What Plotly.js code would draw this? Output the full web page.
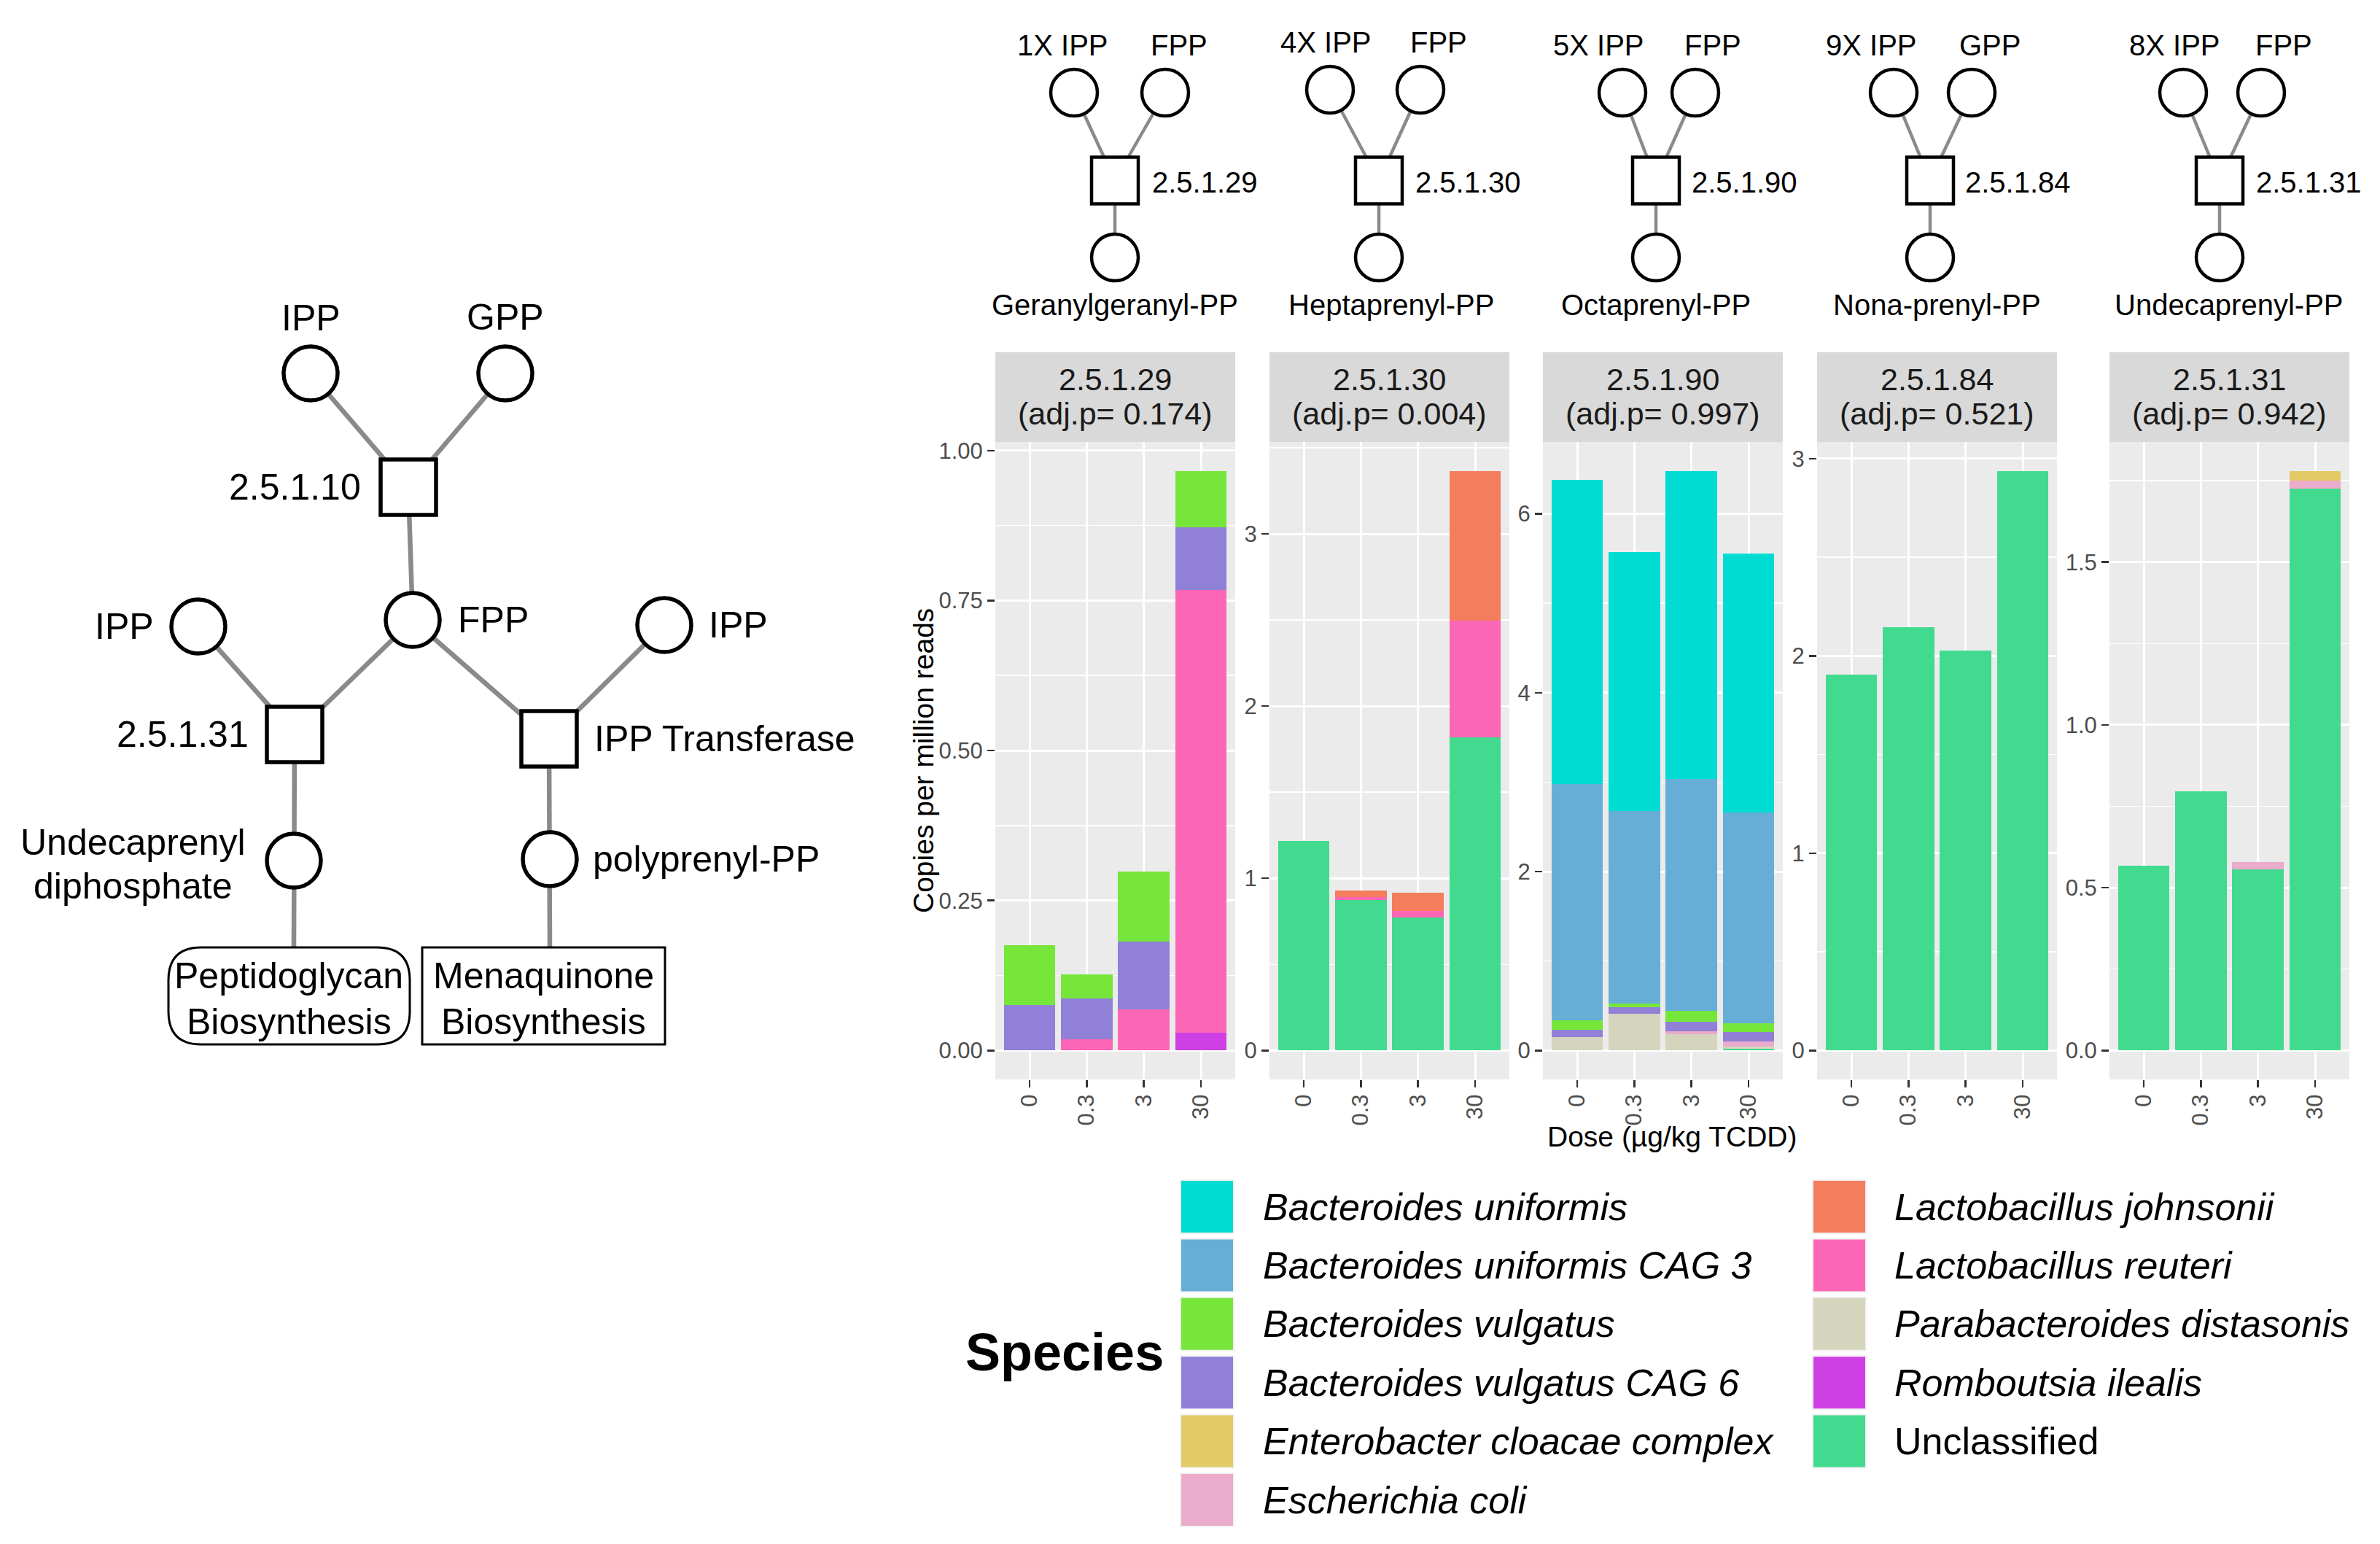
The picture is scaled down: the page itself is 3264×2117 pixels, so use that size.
<!DOCTYPE html>
<html>
<head>
<meta charset="utf-8">
<script src="https://cdn.plot.ly/plotly-3.0.1.min.js"></script>
<style>html,body{margin:0;padding:0;background:#fff;}#chart{width:3264px;height:2117px;}</style>
</head>
<body>
<div id="chart"></div>
<script>
// ---------------- DATA ----------------
const doses = ['0', '0.3', '3', '30'];
const enzymes = ['2.5.1.29', '2.5.1.30', '2.5.1.90', '2.5.1.84', '2.5.1.31'];
const adjP = ['0.174', '0.004', '0.997', '0.521', '0.942'];
const species = ['Bacteroides uniformis', 'Bacteroides uniformis CAG 3', 'Bacteroides vulgatus',
  'Bacteroides vulgatus CAG 6', 'Enterobacter cloacae complex', 'Escherichia coli',
  'Lactobacillus johnsonii', 'Lactobacillus reuteri', 'Parabacteroides distasonis',
  'Romboutsia ilealis', 'Unclassified'];
const speciesColors = ['#00DCD2', '#67AED6', '#76E63A', '#9080D7', '#E2CA64', '#EBABCA',
  '#F37D5D', '#FC66B6', '#D5D5BE', '#CE40E3', '#42DA8F'];

// copies per million reads; rows follow `species`, columns follow `doses`
const ec_2_5_1_29 = [
  [0, 0, 0, 0], [0, 0, 0, 0],
  [0.100, 0.040, 0.116, 0.094],
  [0.076, 0.069, 0.113, 0.104],
  [0, 0, 0, 0], [0, 0, 0, 0], [0, 0, 0, 0],
  [0, 0.018, 0.069, 0.739],
  [0, 0, 0, 0],
  [0, 0, 0, 0.029],
  [0, 0, 0, 0]];
const ec_2_5_1_30 = [
  [0, 0, 0, 0], [0, 0, 0, 0], [0, 0, 0, 0], [0, 0, 0, 0], [0, 0, 0, 0], [0, 0, 0, 0],
  [0, 0.040, 0.106, 0.870],
  [0, 0.015, 0.040, 0.678],
  [0, 0, 0, 0], [0, 0, 0, 0],
  [1.219, 0.875, 0.771, 1.818]];
const ec_2_5_1_90 = [
  [3.404, 2.890, 3.444, 2.895],
  [2.640, 2.156, 2.591, 2.358],
  [0.104, 0.044, 0.123, 0.104],
  [0.079, 0.068, 0.104, 0.100],
  [0, 0, 0, 0],
  [0, 0, 0.038, 0.060],
  [0, 0, 0, 0], [0, 0, 0, 0],
  [0.153, 0.412, 0.180, 0.027],
  [0, 0, 0, 0],
  [0, 0, 0, 0.016]];
const ec_2_5_1_84 = [
  [0, 0, 0, 0], [0, 0, 0, 0], [0, 0, 0, 0], [0, 0, 0, 0], [0, 0, 0, 0], [0, 0, 0, 0],
  [0, 0, 0, 0], [0, 0, 0, 0], [0, 0, 0, 0], [0, 0, 0, 0],
  [1.906, 2.145, 2.026, 2.938]];
const ec_2_5_1_31 = [
  [0, 0, 0, 0], [0, 0, 0, 0], [0, 0, 0, 0], [0, 0, 0, 0],
  [0, 0, 0, 0.030],
  [0, 0, 0.023, 0.025],
  [0, 0, 0, 0], [0, 0, 0, 0], [0, 0, 0, 0], [0, 0, 0, 0],
  [0.567, 0.796, 0.556, 1.725]];
const panelValues = [ec_2_5_1_29, ec_2_5_1_30, ec_2_5_1_90, ec_2_5_1_84, ec_2_5_1_31];

// diagram labels
const substrateLabels = ['1X IPP', '4X IPP', '5X IPP', '9X IPP', '8X IPP'];
const primerLabels = ['FPP', 'FPP', 'FPP', 'GPP', 'FPP'];
const productLabels = ['Geranylgeranyl-PP', 'Heptaprenyl-PP', 'Octaprenyl-PP', 'Nona-prenyl-PP', 'Undecaprenyl-PP'];

// ---------------- STYLE / LAYOUT ----------------
const W = 3264, H = 2117;
const FONT = 'Liberation Sans, Arial, Helvetica, sans-serif';
const px = x => x / W;
const py = y => 1 - y / H;

const panelX = [[1365, 1694], [1741, 2070], [2116, 2445], [2492, 2821], [2893, 3222]];
const panelTop = 606, panelBottom = 1480, stripTop = 483;
const yDtick = [0.25, 1, 2, 1, 0.5];
const yFormat = ['.2f', 'd', 'd', 'd', '.1f'];

const traces = [];
const layout = {
  width: W, height: H,
  margin: {l: 0, r: 0, t: 0, b: 0},
  paper_bgcolor: '#FFFFFF',
  plot_bgcolor: '#EBEBEB',
  barmode: 'stack',
  showlegend: false,
  font: {family: FONT, color: '#000'},
  shapes: [],
  annotations: []
};

panelValues.forEach((vals, p) => {
  const ax = p === 0 ? '' : String(p + 1);
  // stack bottom-to-top in reverse legend order (ggplot style)
  for (let s = species.length - 1; s >= 0; s--) {
    if (vals[s].some(v => v > 0)) {
      traces.push({
        type: 'bar', x: doses, y: vals[s], name: species[s],
        xaxis: 'x' + ax, yaxis: 'y' + ax, width: 0.9,
        marker: {color: speciesColors[s], line: {width: 0}},
        hovertemplate: species[s] + '<br>%{x}: %{y}<extra></extra>'
      });
    }
  }
  const totals = doses.map((d, i) => vals.reduce((a, r) => a + r[i], 0));
  const mx = Math.max(...totals);
  layout['xaxis' + ax] = {
    domain: [px(panelX[p][0]), px(panelX[p][1])],
    anchor: 'y' + ax, type: 'category', categoryorder: 'array', categoryarray: doses,
    range: [-0.6, 3.6], showgrid: true, gridcolor: '#FFFFFF', gridwidth: 3,
    zeroline: false, showline: false, ticks: 'outside', ticklen: 10, tickwidth: 2.5,
    tickcolor: '#333333', tickangle: -90, fixedrange: true, ticklabelstandoff: -3,
    tickfont: {family: FONT, size: 31, color: '#4D4D4D'}
  };
  layout['yaxis' + ax] = {
    domain: [py(panelBottom), py(panelTop)],
    anchor: 'x' + ax, range: [-0.05 * mx, 1.05 * mx],
    tick0: 0, dtick: yDtick[p], tickformat: yFormat[p],
    showgrid: true, gridcolor: '#FFFFFF', gridwidth: 3, zeroline: false, showline: false,
    ticks: 'outside', ticklen: 10, tickwidth: 2.5, tickcolor: '#333333', fixedrange: true,
    tickfont: {family: FONT, size: 31, color: '#4D4D4D'},
    minor: {dtick: yDtick[p] / 2, tick0: 0, showgrid: true, gridcolor: '#FFFFFF', gridwidth: 1.5, ticks: ''}
  };
  // facet strip
  layout.shapes.push({type: 'rect', xref: 'paper', yref: 'paper',
    x0: px(panelX[p][0]), x1: px(panelX[p][1]), y0: py(panelTop), y1: py(stripTop),
    fillcolor: '#D9D9D9', line: {width: 0}, layer: 'below'});
  const cx = (panelX[p][0] + panelX[p][1]) / 2;
  layout.annotations.push({xref: 'paper', yref: 'paper', x: px(cx), y: py(520), text: enzymes[p],
    showarrow: false, xanchor: 'center', yanchor: 'middle', font: {family: FONT, size: 43, color: '#1A1A1A'}});
  layout.annotations.push({xref: 'paper', yref: 'paper', x: px(cx), y: py(567), text: '(adj.p= ' + adjP[p] + ')',
    showarrow: false, xanchor: 'center', yanchor: 'middle', font: {family: FONT, size: 43, color: '#1A1A1A'}});
});

// axis titles
layout.annotations.push({xref: 'paper', yref: 'paper', x: px(1266), y: py(1043), text: 'Copies per million reads',
  textangle: -90, showarrow: false, xanchor: 'center', yanchor: 'middle', font: {family: FONT, size: 39, color: '#000'}});
layout.annotations.push({xref: 'paper', yref: 'paper', x: px(2293), y: py(1558), text: 'Dose (µg/kg TCDD)',
  showarrow: false, xanchor: 'center', yanchor: 'middle', font: {family: FONT, size: 39, color: '#000'}});

// ---------------- LEGEND (manual, ggplot style) ----------------
const legCols = [{keyX: 1619, textX: 1730}, {keyX: 2486, textX: 2596}];
const legRowTop = 1618, legPitch = 80.4, keySize = 73;
species.forEach((sp, i) => {
  const col = i < 6 ? 0 : 1, row = i < 6 ? i : i - 6;
  const y0 = legRowTop + row * legPitch;
  layout.shapes.push({type: 'rect', xref: 'paper', yref: 'paper',
    x0: px(legCols[col].keyX), x1: px(legCols[col].keyX + keySize), y0: py(y0 + keySize), y1: py(y0),
    fillcolor: speciesColors[i], line: {color: '#F2F2F2', width: 2}});
  layout.annotations.push({xref: 'paper', yref: 'paper', x: px(legCols[col].textX), y: py(y0 + keySize / 2),
    text: sp === 'Unclassified' ? sp : '<i>' + sp + '</i>', showarrow: false, xanchor: 'left', yanchor: 'middle',
    font: {family: FONT, size: 52, color: '#000'}});
});
layout.annotations.push({xref: 'paper', yref: 'paper', x: px(1322), y: py(1854), text: '<b>Species</b>',
  showarrow: false, xanchor: 'left', yanchor: 'middle', font: {family: FONT, size: 72, color: '#000'}});

// ---------------- PATHWAY DIAGRAMS ----------------
const lineShapes = [], nodeShapes = [];
function edge(x1, y1, x2, y2, w) {
  lineShapes.push({type: 'line', xref: 'paper', yref: 'paper', x0: px(x1), y0: py(y1), x1: px(x2), y1: py(y2),
    line: {color: '#8A8A8A', width: w}});
}
function circ(cx, cy, r, w) {
  nodeShapes.push({type: 'circle', xref: 'paper', yref: 'paper', x0: px(cx - r), x1: px(cx + r), y0: py(cy + r), y1: py(cy - r),
    fillcolor: '#FFFFFF', line: {color: '#000', width: w}});
}
function sq(cx, cy, h, w) {
  nodeShapes.push({type: 'rect', xref: 'paper', yref: 'paper', x0: px(cx - h), x1: px(cx + h), y0: py(cy + h), y1: py(cy - h),
    fillcolor: '#FFFFFF', line: {color: '#000', width: w}});
}
function label(x, y, text, size, anchor) {
  layout.annotations.push({xref: 'paper', yref: 'paper', x: px(x), y: py(y), text: text, showarrow: false,
    xanchor: anchor, yanchor: 'middle', font: {family: FONT, size: size, color: '#000'}});
}

// small diagrams above each facet
const topDiag = [
  {lx: 1473, rx: 1598, sx: 1529, ll: 1457, rl: 1617, nx: 1578, pc: 1529, ty: 62, cy: 127},
  {lx: 1824, rx: 1948, sx: 1891, ll: 1818, rl: 1973, nx: 1939, pc: 1908, ty: 58, cy: 123},
  {lx: 2225, rx: 2325, sx: 2271, ll: 2192, rl: 2349, nx: 2318, pc: 2271, ty: 62, cy: 127},
  {lx: 2597, rx: 2704, sx: 2647, ll: 2566, rl: 2729, nx: 2693, pc: 2656, ty: 62, cy: 127},
  {lx: 2994, rx: 3101, sx: 3044, ll: 2982, rl: 3132, nx: 3092, pc: 3057, ty: 62, cy: 127}];
topDiag.forEach((d, i) => {
  const sqy = 247.5, boty = 353;
  edge(d.lx, d.cy, d.sx, sqy, 4.5);
  edge(d.rx, d.cy, d.sx, sqy, 4.5);
  edge(d.sx, sqy, d.sx, boty, 4.5);
  sq(d.sx, sqy, 32, 4.5);
  circ(d.lx, d.cy, 32, 4.5);
  circ(d.rx, d.cy, 32, 4.5);
  circ(d.sx, boty, 32, 4.5);
  label(d.ll, d.ty, substrateLabels[i], 40, 'center');
  label(d.rl, d.ty, primerLabels[i], 40, 'center');
  label(d.nx, 250, enzymes[i], 40, 'left');
  label(d.pc, 418, productLabels[i], 40, 'center');
});

// main pathway on the left
const LW = 6.5;
edge(426, 512, 560, 668, LW);     // IPP -> 2.5.1.10
edge(693, 512, 560, 668, LW);     // GPP -> 2.5.1.10
edge(560, 668, 566, 850, LW);     // -> FPP
edge(566, 850, 404, 1007, LW);    // FPP -> 2.5.1.31
edge(272, 859, 404, 1007, LW);    // IPP -> 2.5.1.31
edge(566, 850, 753, 1013, LW);    // FPP -> IPP transferase
edge(911, 857, 753, 1013, LW);    // IPP -> IPP transferase
edge(404, 1007, 403, 1299, LW);   // -> undecaprenyl-PP -> peptidoglycan
edge(753, 1013, 754, 1299, LW);   // -> polyprenyl-PP -> menaquinone
sq(560, 668, 38, 5.5);
sq(404, 1007, 38, 5.5);
sq(753, 1013, 38, 5.5);
[[426, 512], [693, 512], [566, 850], [272, 859], [911, 857], [403, 1180], [754, 1178]].forEach(c => circ(c[0], c[1], 37, 5.5));

// rounded box (Peptidoglycan) as a path
(function () {
  const x0 = 231, x1 = 562, y0 = 1299, y1 = 1432, r = 45;
  const P = (x, y) => px(x) + ',' + py(y);
  const path = 'M' + P(x0 + r, y0) + ' L' + P(x1 - r, y0) + ' Q' + P(x1, y0) + ' ' + P(x1, y0 + r) +
    ' L' + P(x1, y1 - r) + ' Q' + P(x1, y1) + ' ' + P(x1 - r, y1) + ' L' + P(x0 + r, y1) +
    ' Q' + P(x0, y1) + ' ' + P(x0, y1 - r) + ' L' + P(x0, y0 + r) + ' Q' + P(x0, y0) + ' ' + P(x0 + r, y0) + ' Z';
  nodeShapes.push({type: 'path', xref: 'paper', yref: 'paper', path: path, fillcolor: '#FFFFFF', line: {color: '#000', width: 3}});
})();
nodeShapes.push({type: 'rect', xref: 'paper', yref: 'paper', x0: px(579), x1: px(912), y0: py(1432), y1: py(1299),
  fillcolor: '#FFFFFF', line: {color: '#000', width: 3}});

const LF = 50;
label(426, 436, 'IPP', LF, 'center');
label(693, 435, 'GPP', LF, 'center');
label(497, 668, '2.5.1.10', LF, 'right');
label(626, 850, 'FPP', LF, 'left');
label(213, 859, 'IPP', LF, 'right');
label(970, 857, 'IPP', LF, 'left');
label(343, 1007, '2.5.1.31', LF, 'right');
label(813, 1013, 'IPP Transferase', LF, 'left');
label(182, 1155, 'Undecaprenyl', LF, 'center');
label(182, 1215, 'diphosphate', LF, 'center');
label(811, 1178, 'polyprenyl-PP', LF, 'left');
label(396, 1338, 'Peptidoglycan', LF, 'center');
label(396, 1401, 'Biosynthesis', LF, 'center');
label(745, 1338, 'Menaquinone', LF, 'center');
label(745, 1401, 'Biosynthesis', LF, 'center');

layout.shapes = layout.shapes.concat(lineShapes, nodeShapes);

Plotly.newPlot('chart', traces, layout, {staticPlot: true, displayModeBar: false});
</script>
</body>
</html>
